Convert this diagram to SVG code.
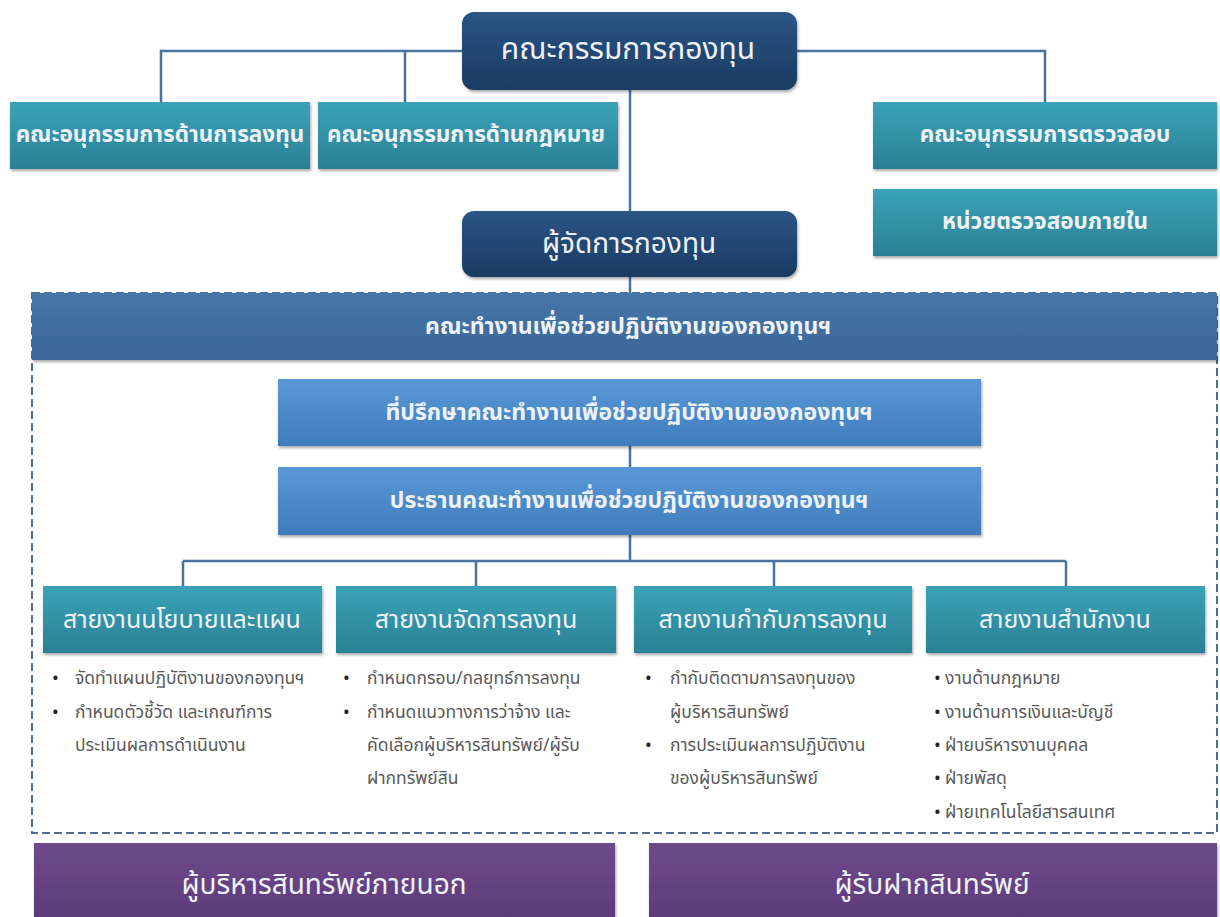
<svg xmlns="http://www.w3.org/2000/svg" width="1220" height="917" viewBox="0 0 1220 917">
<defs>
<linearGradient id="gNavy" x1="0" y1="0" x2="0" y2="1"><stop offset="0" stop-color="#2a5585"/><stop offset="1" stop-color="#1a3b62"/></linearGradient>
<linearGradient id="gTeal" x1="0" y1="0" x2="0" y2="1"><stop offset="0" stop-color="#3aa3b8"/><stop offset="1" stop-color="#2a8094"/></linearGradient>
<linearGradient id="gSteel" x1="0" y1="0" x2="0" y2="1"><stop offset="0" stop-color="#4676a8"/><stop offset="1" stop-color="#3a6697"/></linearGradient>
<linearGradient id="gBlue" x1="0" y1="0" x2="0" y2="1"><stop offset="0" stop-color="#5a98d6"/><stop offset="1" stop-color="#3f7cbd"/></linearGradient>
<linearGradient id="gPurple" x1="0" y1="0" x2="0" y2="1"><stop offset="0" stop-color="#6e4a8c"/><stop offset="1" stop-color="#5c3a78"/></linearGradient>
<filter id="sh" x="-5%" y="-10%" width="110%" height="130%"><feDropShadow dx="1" dy="2" stdDeviation="1.5" flood-color="#000" flood-opacity="0.35"/></filter>
</defs>
<style>
text{font-family:"Noto Sans Thai","Noto Sans","DejaVu Sans",sans-serif;}
.t{fill:#eef2f7;text-anchor:middle;dominant-baseline:central;}
.b{fill:#5a5a5a;font-size:17.5px;dominant-baseline:central;}
.d{fill:#222;font-size:18px;dominant-baseline:central;}
.c{fill:none;stroke:#4a72a0;stroke-width:2.5;}
</style>
<rect width="1220" height="917" fill="#ffffff"/>
<g id="connectors">
<path class="c" d="M462 51 H161 V102 M405 51 V102 M797 51 H1045 V102 M630 90 V293"/>
<path class="c" d="M630 446 V467 M630 535 V561 M183 561 H1066 M183 561 V586 M476 561 V586 M774 561 V586 M1066 561 V586"/>
</g>
<g id="board"><rect x="462" y="12" width="335" height="78" rx="12" fill="url(#gNavy)" filter="url(#sh)"/><text class="t" x="628" y="50" font-size="30">คณะกรรมการกองทุน</text></g>
<g id="sub-invest"><rect x="10" y="102" width="300" height="67" fill="url(#gTeal)" filter="url(#sh)"/><text class="t" x="160" y="135" font-size="22.5" font-weight="bold">คณะอนุกรรมการด้านการลงทุน</text></g>
<g id="sub-law"><rect x="318" y="102" width="300" height="67" fill="url(#gTeal)" filter="url(#sh)"/><text class="t" x="466" y="135" font-size="22.5" font-weight="bold">คณะอนุกรรมการด้านกฎหมาย</text></g>
<g id="sub-audit"><rect x="873" y="102" width="344" height="67" fill="url(#gTeal)" filter="url(#sh)"/><text class="t" x="1045" y="135" font-size="22.5" font-weight="bold">คณะอนุกรรมการตรวจสอบ</text></g>
<g id="internal-audit"><rect x="873" y="189" width="344" height="67" fill="url(#gTeal)" filter="url(#sh)"/><text class="t" x="1045" y="222" font-size="22.5" font-weight="bold">หน่วยตรวจสอบภายใน</text></g>
<g id="manager"><rect x="462" y="211" width="335" height="66" rx="12" fill="url(#gNavy)" filter="url(#sh)"/><text class="t" x="629" y="244" font-size="28">ผู้จัดการกองทุน</text></g>
<g id="working-group">
<rect x="32" y="293" width="1185" height="540" fill="none" stroke="#4a6d9a" stroke-width="2" stroke-dasharray="8,4"/>
<rect x="32" y="293" width="1185" height="67" fill="url(#gSteel)" filter="url(#sh)"/>
<text class="t" x="628" y="327" font-size="23" font-weight="bold">คณะทำงานเพื่อช่วยปฏิบัติงานของกองทุนฯ</text>
</g>
<g id="advisor"><rect x="278" y="379" width="703" height="67" fill="url(#gBlue)" filter="url(#sh)"/><text class="t" x="629" y="413" font-size="23" font-weight="bold">ที่ปรึกษาคณะทำงานเพื่อช่วยปฏิบัติงานของกองทุนฯ</text></g>
<g id="chair"><rect x="278" y="467" width="703" height="68" fill="url(#gBlue)" filter="url(#sh)"/><text class="t" x="629" y="501" font-size="23" font-weight="bold">ประธานคณะทำงานเพื่อช่วยปฏิบัติงานของกองทุนฯ</text></g>
<g id="policy">
<rect x="43" y="586" width="279" height="67" fill="url(#gTeal)" filter="url(#sh)"/><text class="t" x="182" y="620" font-size="25">สายงานนโยบายและแผน</text>
<text class="d" x="52" y="678">•</text><text class="b" x="75" y="678">จัดทำแผนปฏิบัติงานของกองทุนฯ</text>
<text class="d" x="52" y="712">•</text><text class="b" x="75" y="712">กำหนดตัวชี้วัด และเกณฑ์การ</text>
<text class="b" x="75" y="745">ประเมินผลการดำเนินงาน</text>
</g>
<g id="invest-mgmt">
<rect x="336" y="586" width="280" height="67" fill="url(#gTeal)" filter="url(#sh)"/><text class="t" x="476" y="620" font-size="25">สายงานจัดการลงทุน</text>
<text class="d" x="343" y="678">•</text><text class="b" x="367" y="678">กำหนดกรอบ/กลยุทธ์การลงทุน</text>
<text class="d" x="343" y="712">•</text><text class="b" x="367" y="712">กำหนดแนวทางการว่าจ้าง และ</text>
<text class="b" x="367" y="745">คัดเลือกผู้บริหารสินทรัพย์/ผู้รับ</text>
<text class="b" x="367" y="778">ฝากทรัพย์สิน</text>
</g>
<g id="invest-supervise">
<rect x="634" y="586" width="278" height="67" fill="url(#gTeal)" filter="url(#sh)"/><text class="t" x="773" y="620" font-size="25">สายงานกำกับการลงทุน</text>
<text class="d" x="645" y="678">•</text><text class="b" x="670" y="678">กำกับติดตามการลงทุนของ</text>
<text class="b" x="670" y="712">ผู้บริหารสินทรัพย์</text>
<text class="d" x="645" y="745">•</text><text class="b" x="670" y="745">การประเมินผลการปฏิบัติงาน</text>
<text class="b" x="670" y="778">ของผู้บริหารสินทรัพย์</text>
</g>
<g id="office">
<rect x="926" y="586" width="279" height="67" fill="url(#gTeal)" filter="url(#sh)"/><text class="t" x="1065" y="620" font-size="25">สายงานสำนักงาน</text>
<text class="d" x="934" y="678">•</text><text class="b" x="945" y="678">งานด้านกฎหมาย</text>
<text class="d" x="934" y="712">•</text><text class="b" x="945" y="712">งานด้านการเงินและบัญชี</text>
<text class="d" x="934" y="745">•</text><text class="b" x="945" y="745">ฝ่ายบริหารงานบุคคล</text>
<text class="d" x="934" y="778">•</text><text class="b" x="945" y="778">ฝ่ายพัสดุ</text>
<text class="d" x="934" y="812">•</text><text class="b" x="945" y="812">ฝ่ายเทคโนโลยีสารสนเทศ</text>
</g>
<g id="external-manager"><rect x="34" y="843" width="581" height="80" fill="url(#gPurple)" filter="url(#sh)"/><text class="t" x="324" y="885" font-size="28">ผู้บริหารสินทรัพย์ภายนอก</text></g>
<g id="custodian"><rect x="649" y="843" width="568" height="80" fill="url(#gPurple)" filter="url(#sh)"/><text class="t" x="932" y="885" font-size="28">ผู้รับฝากสินทรัพย์</text></g>
</svg>
